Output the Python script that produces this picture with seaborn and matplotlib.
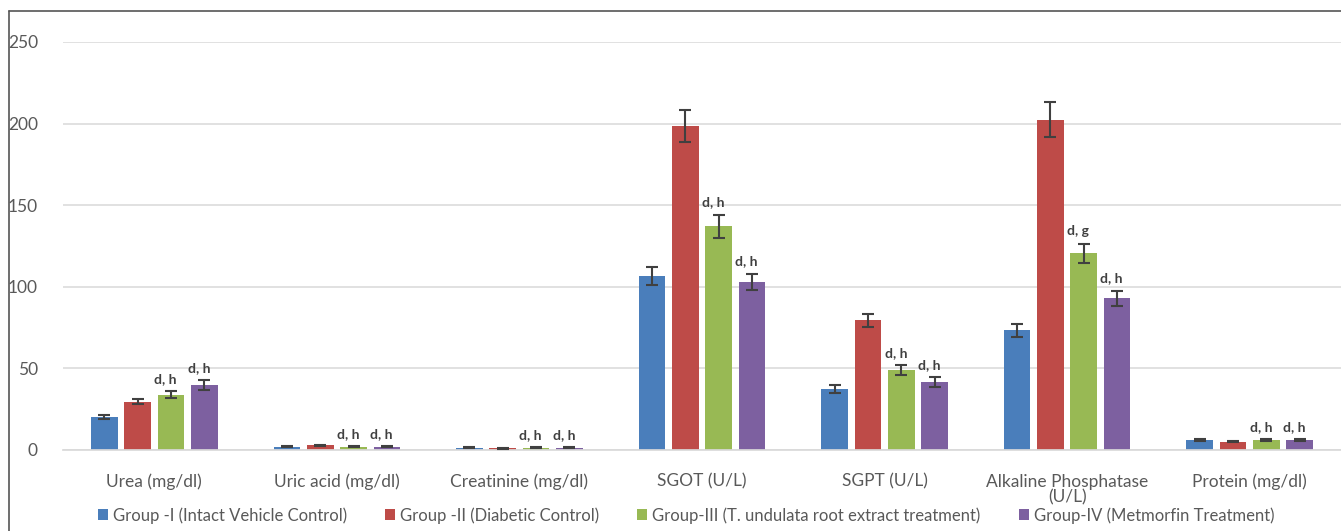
import seaborn as sns
import numpy as np
import matplotlib.pyplot as plt
import pandas as pd

# data
categories = ['Urea (mg/dl)', 'Uric acid (mg/dl)', 'Creatinine (mg/dl)', 'SGOT (U/L)',
              'SGPT (U/L)', 'Alkaline Phosphatase\n(U/L)', 'Protein (mg/dl)']
groups = ['Group -I (Intact Vehicle Control)', 'Group -II (Diabetic Control)',
          'Group-III (T. undulata root extract treatment)', 'Group-IV (Metmorfin Treatment)']

g1_mean = [20.2, 2.0, 1.5, 106.5, 37.5, 73.5, 6.0]
g2_mean = [29.5, 2.8, 1.2, 198.5, 79.5, 202.5, 5.2]
g3_mean = [34.0, 2.0, 1.3, 137.0, 49.0, 120.5, 6.0]
g4_mean = [39.8, 2.0, 1.3, 103.0, 41.5, 93.0, 6.0]

g1_err = [1.5, 0.3, 0.3, 5.5, 2.5, 4.0, 0.5]
g2_err = [1.5, 0.5, 0.3, 10.0, 4.0, 10.5, 0.5]
g3_err = [2.0, 0.3, 0.3, 7.0, 3.0, 6.0, 0.5]
g4_err = [3.0, 0.3, 0.3, 5.0, 3.0, 4.5, 0.5]

g3_sig = ['d, h', 'd, h', 'd, h', 'd, h', 'd, h', 'd, g', 'd, h']
g4_sig = ['d, h', 'd, h', 'd, h', 'd, h', 'd, h', 'd, h', 'd, h']

colors = ['#4A7EBB', '#BE4B48', '#98B954', '#7D60A0']

sns.set_theme(style='white')
plt.rcParams['font.family'] = ['Lato', 'DejaVu Sans']

means = [g1_mean, g2_mean, g3_mean, g4_mean]
errs = [g1_err, g2_err, g3_err, g4_err]
df = pd.DataFrame({
    'category': np.repeat([categories], 4, axis=0).ravel(),
    'group': np.repeat(groups, len(categories)),
    'value': np.concatenate(means),
})

fig = plt.figure(figsize=(13.41, 5.31), dpi=100)
ax = fig.add_axes([63 / 1341, 81 / 531, 1278 / 1341, 408 / 531])

sns.barplot(data=df, x='category', y='value', hue='group', palette=colors,
            width=0.73, gap=0.2, ax=ax, legend=True, saturation=1,
            edgecolor='none', errorbar=None)

# error bars and significance letters
sig = [None, None, g3_sig, g4_sig]
bar_conts = list(ax.containers)
for gi, cont in enumerate(bar_conts):
    xs = [p.get_x() + p.get_width() / 2 for p in cont.patches]
    ax.errorbar(xs, means[gi], yerr=errs[gi], fmt='none', ecolor='#404040',
                elinewidth=1.5, capsize=4.5, capthick=1.5, zorder=3)
    if sig[gi] is not None:
        for x, m, e, s in zip(xs, means[gi], errs[gi], sig[gi]):
            ax.text(x - 0.03, m + e + 4, s, ha='center', va='bottom', fontsize=10,
                    fontweight='bold', color='#404040')

ax.set_xlim(-0.5, len(categories) - 0.5)
ax.set_ylim(0, 250)
ax.set_yticks([0, 50, 100, 150, 200, 250])
ax.set_xlabel('')
ax.set_ylabel('')
ax.yaxis.grid(True, color='#DCDCDC', linewidth=1.2)
ax.set_axisbelow(True)
for s in ['left', 'right', 'top']:
    ax.spines[s].set_visible(False)
ax.spines['bottom'].set_color('#D9D9D9')
ax.tick_params(axis='both', length=0, labelsize=12.5, colors='#595959')
ax.tick_params(axis='x', pad=17)
ax.tick_params(axis='y', pad=18)
for lab in ax.get_xticklabels():
    lab.set_linespacing(0.95)

leg = ax.legend(loc='center', bbox_to_anchor=(0.4875, -0.16), ncol=4, frameon=False,
                fontsize=12, handlelength=0.6, handleheight=0.6, handletextpad=0.3,
                columnspacing=2.3, labelcolor='#595959', borderpad=0)

# frame lines from the cropped source
fig.add_artist(plt.Line2D([9 / 1341, 9 / 1341], [0, 1 - 11 / 531], color='#555555', lw=1.2))
fig.add_artist(plt.Line2D([9 / 1341, 1], [1 - 11 / 531, 1 - 11 / 531], color='#555555', lw=1.2))

fig.savefig('out.png', dpi=100)
